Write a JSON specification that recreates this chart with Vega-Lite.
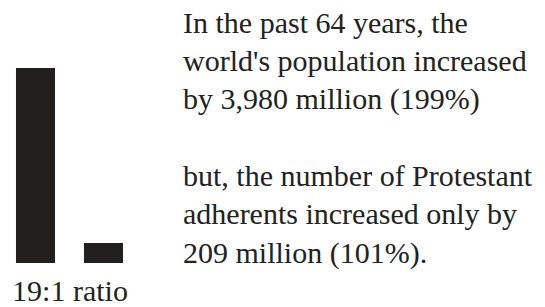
{
  "$schema": "https://vega.github.io/schema/vega-lite/v6.json",
  "padding": 0,
  "background": "white",
  "config": {"view": {"stroke": null}, "concat": {"spacing": 44}},
  "hconcat": [
    {
      "width": 139,
      "height": 263,
      "data": {"values": [
        {"group": "World population", "increase": 3980},
        {"group": "Protestant adherents", "increase": 209}
      ]},
      "mark": {"type": "bar", "color": "#221f1f"},
      "encoding": {
        "x": {
          "field": "group", "type": "nominal", "sort": null,
          "scale": {"paddingInner": 0.426, "paddingOuter": 0.235},
          "axis": {"title": "19:1 ratio", "labels": false, "ticks": false, "domain": false,
                   "titleFont": "Times New Roman, Liberation Serif, Times, serif", "titleFontSize": 30, "titleFontWeight": "normal",
                   "titleColor": "#222222", "titlePadding": 13}
        },
        "y": {"field": "increase", "type": "quantitative", "scale": {"domain": [-220, 5445]}, "axis": null},
        "y2": {"datum": -220}
      }
    },
    {
      "width": 362,
      "height": 263,
      "data": {"values": [
        {"row": 1, "line": "In the past 64 years, the"},
        {"row": 2, "line": "world's population increased"},
        {"row": 3, "line": "by 3,980 million (199%)"},
        {"row": 5, "line": "but, the number of Protestant"},
        {"row": 6, "line": "adherents increased only by"},
        {"row": 7, "line": "209 million (101%)."}
      ]},
      "mark": {"type": "text", "align": "left", "baseline": "alphabetic", "font": "Times New Roman, Liberation Serif, Times, serif", "fontSize": 30, "color": "#222222"},
      "encoding": {
        "x": {"datum": 0, "type": "quantitative", "scale": {"domain": [0, 1]}, "axis": null},
        "y": {"field": "row", "type": "quantitative", "scale": {"domain": [0.146, 7.013], "reverse": true}, "axis": null},
        "text": {"field": "line"}
      }
    }
  ]
}
